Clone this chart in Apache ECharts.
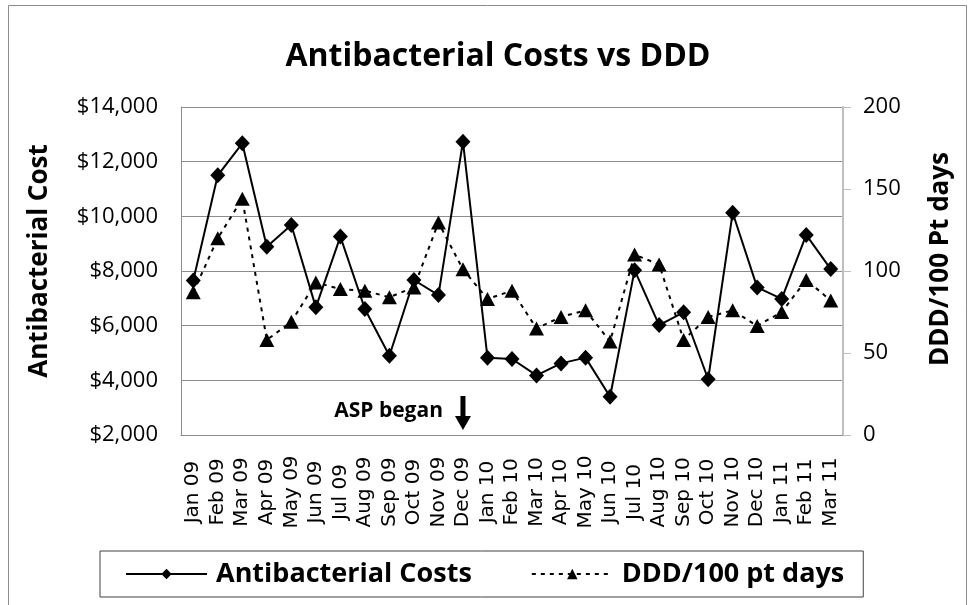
<!DOCTYPE html>
<html>
<head>
<meta charset="utf-8">
<script src="https://cdn.jsdelivr.net/npm/echarts@6/dist/echarts.min.js"></script>
<style>
  html, body { margin: 0; padding: 0; background: #fff; }
  #chart { width: 973px; height: 605px; }
</style>
</head>
<body>
<div id="chart"></div>
<script>
// Monthly antibacterial spend and DDD per 100 patient days
const months = ['Jan 09', 'Feb 09', 'Mar 09', 'Apr 09', 'May 09', 'Jun 09', 'Jul 09', 'Aug 09', 'Sep 09',
  'Oct 09', 'Nov 09', 'Dec 09', 'Jan 10', 'Feb 10', 'Mar 10', 'Apr 10', 'May 10', 'Jun 10', 'Jul 10',
  'Aug 10', 'Sep 10', 'Oct 10', 'Nov 10', 'Dec 10', 'Jan 11', 'Feb 11', 'Mar 11'];

const costs = [7650, 11500, 12670, 8890, 9680, 6670, 9260, 6610, 4900,
  7670, 7120, 12730, 4830, 4780, 4180, 4620, 4830, 3400, 8030,
  6020, 6490, 4040, 10130, 7400, 6980, 9320, 8070];

const dddPer100 = [87, 120, 144, 58, 69, 93, 89, 88, 84,
  90, 129.5, 101, 83, 88, 65, 72, 76, 57, 110,
  104, 58, 72, 76, 66.5, 75, 94.5, 82];

const costTicks = { min: 2000, max: 14000, step: 2000 };
const dddTicks = { min: 0, max: 200, step: 50 };

const aspStart = 'Dec 09';

const SANS = '"Open Sans", "Noto Sans", sans-serif';

const chart = echarts.init(document.getElementById('chart'), null, { renderer: 'canvas' });

const option = {
  animation: false,
  backgroundColor: '#ffffff',
  grid: { left: 181, right: 130, top: 107, bottom: 170, containLabel: false },
  xAxis: {
    type: 'category',
    data: months,
    boundaryGap: true,
    axisLine: { show: true, lineStyle: { color: '#8c8c8c', width: 1 } },
    axisTick: { show: false },
    axisLabel: {
      interval: 0,
      rotate: 90,
      align: 'center',
      verticalAlign: 'middle',
      margin: 57,
      fontFamily: '"DejaVu Sans", sans-serif',
      fontSize: 20,
      color: '#000'
    },
    splitLine: { show: false }
  },
  yAxis: [
    {
      type: 'value',
      min: costTicks.min,
      max: costTicks.max,
      interval: costTicks.step,
      position: 'left',
      axisLine: { show: true, lineStyle: { color: '#8c8c8c', width: 1 } },
      axisTick: { show: false },
      axisLabel: {
        margin: 23,
        fontFamily: SANS,
        fontSize: 22,
        color: '#000',
        formatter: v => '$' + v.toLocaleString('en-US')
      },
      splitLine: { show: true, lineStyle: { color: '#8c8c8c', width: 1 } }
    },
    {
      type: 'value',
      min: dddTicks.min,
      max: dddTicks.max,
      interval: dddTicks.step,
      position: 'right',
      axisLine: { show: true, lineStyle: { color: '#bfbfbf', width: 2 } },
      axisTick: { show: true, inside: false, length: 8, lineStyle: { color: '#bfbfbf', width: 1 } },
      axisLabel: {
        margin: 20,
        fontFamily: SANS,
        fontSize: 22,
        color: '#000'
      },
      splitLine: { show: false }
    }
  ],
  legend: {
    left: 100,
    top: 551,
    padding: [8, 19, 8, 25],
    itemWidth: 81,
    itemHeight: 13,
    itemGap: 59,
    borderColor: '#404040',
    borderWidth: 1,
    textStyle: {
      fontFamily: SANS, fontWeight: 'bold', fontSize: 27, color: '#000', lineHeight: 30,
      padding: [0, 0, 0, 4]
    },
    data: ['Antibacterial Costs', 'DDD/100 pt days']
  },
  series: [
    {
      name: 'Antibacterial Costs',
      type: 'line',
      yAxisIndex: 0,
      data: costs,
      symbol: 'diamond',
      symbolSize: [15, 16],
      lineStyle: { color: '#000', width: 2, type: 'solid' },
      itemStyle: { color: '#000' },
      z: 2
    },
    {
      name: 'DDD/100 pt days',
      type: 'line',
      yAxisIndex: 1,
      data: dddPer100,
      symbol: 'triangle',
      symbolSize: [15, 14],
      lineStyle: { color: '#000', width: 2, type: [4, 5] },
      itemStyle: { color: '#000' },
      z: 3
    }
  ]
};

chart.setOption(option);

// Free text and the ASP start marker, placed relative to the plot
const gridRect = chart.getModel().getComponent('grid', 0).coordinateSystem.getRect();
const arrowX = chart.convertToPixel({ xAxisIndex: 0 }, aspStart);
const axisBottomY = gridRect.y + gridRect.height;

chart.setOption({
  graphic: [
    {
      type: 'rect',
      silent: true,
      z: -10,
      shape: { x: 8.5, y: 5.5, width: 958, height: 700 },
      style: { fill: null, stroke: '#8c8c8c', lineWidth: 1 }
    },
    {
      type: 'text',
      x: 498, y: 57,
      style: {
        text: 'Antibacterial Costs vs DDD',
        fontFamily: SANS, fontWeight: 'bold', fontSize: 32, fill: '#000',
        align: 'center', verticalAlign: 'middle'
      }
    },
    {
      type: 'text',
      x: 40, y: 261,
      rotation: Math.PI / 2,
      style: {
        text: 'Antibacterial Cost',
        fontFamily: SANS, fontWeight: 'bold', fontSize: 26, fill: '#000',
        align: 'center', verticalAlign: 'middle'
      }
    },
    {
      type: 'text',
      x: 941, y: 259,
      rotation: Math.PI / 2,
      style: {
        text: 'DDD/100 Pt days',
        fontFamily: SANS, fontWeight: 'bold', fontSize: 26, fill: '#000',
        align: 'center', verticalAlign: 'middle'
      }
    },
    {
      type: 'text',
      x: arrowX - 20, y: axisBottomY - 24,
      style: {
        text: 'ASP began',
        fontFamily: SANS, fontWeight: 'bold', fontSize: 21, fill: '#000',
        align: 'right', verticalAlign: 'middle'
      }
    },
    {
      type: 'polygon',
      shape: {
        points: [
          [arrowX - 2.5, axisBottomY - 39],
          [arrowX + 2.5, axisBottomY - 39],
          [arrowX + 2.5, axisBottomY - 19],
          [arrowX + 8, axisBottomY - 19],
          [arrowX, axisBottomY - 5],
          [arrowX - 8, axisBottomY - 19],
          [arrowX - 2.5, axisBottomY - 19]
        ]
      },
      style: { fill: '#000' }
    }
  ]
});
</script>
</body>
</html>
